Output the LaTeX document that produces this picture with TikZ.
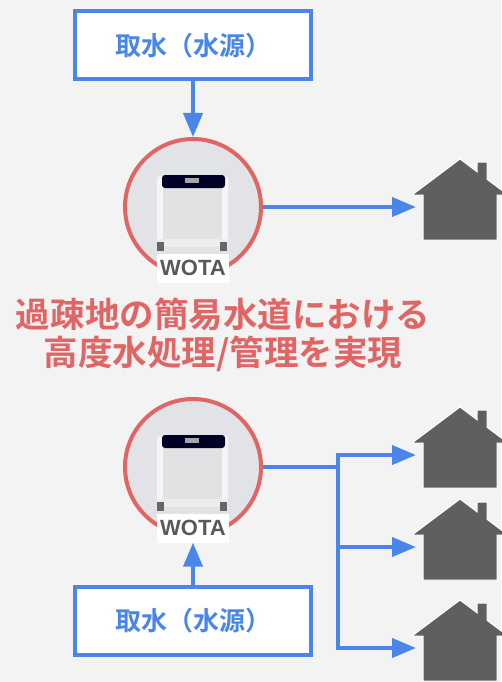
\documentclass[tikz,border=0pt]{standalone}
\usepackage{fontspec}
\usetikzlibrary{positioning}
\usetikzlibrary{arrows.meta}
\setmainfont{Liberation Sans}
\newfontfamily\jpbold{Noto Sans CJK JP Bold}
\definecolor{wotablue}{HTML}{4A86E8}
\definecolor{wotared}{HTML}{E06666}
\definecolor{housegray}{HTML}{5F5F5F}
\definecolor{bggray}{HTML}{F3F3F3}
\definecolor{unitgray}{HTML}{E2E3E7}

\tikzset{
  house/.pic={
    \fill[housegray,draw=white,line width=1pt]
      (-4,-12) -- (44,-48) -- (61,-35.25) -- (61,-45) -- (71,-45) -- (71,-27.75)
      -- (92,-12) -- (81,-12) -- (81,33) -- (7,33) -- (7,-12) -- cycle;
  },
  unit/.pic={
    \fill[white!92!gray,rounded corners=3pt] (-36,-31) rectangle (35,38);
    \fill[blue!4!gray!22] (-30,-20) rectangle (29,32);
    \fill[black!85!blue,rounded corners=3pt] (-31,-32) rectangle (32,-19);
    \fill[gray!70] (-8,-29) rectangle (6,-24);
    \fill[gray!15] (-36,32) rectangle (35,40);
    \fill[gray!80!black] (-36,35) rectangle (-29,44);
    \fill[gray!80!black] (27,35) rectangle (34,44);
  }
}

\begin{document}
\begin{tikzpicture}[x=1pt,y=-1pt,
  src/.style={rectangle,draw=wotablue,fill=white,line width=3.5pt,
    minimum width=236pt,minimum height=68pt,
    font=\jpbold\fontsize{26}{30}\selectfont,text=wotablue},
  wota/.style={circle,draw=wotared,fill=unitgray,line width=4pt,
    minimum size=136pt,inner sep=0pt},
  tag/.style={rectangle,fill=white,minimum width=72pt,minimum height=29pt,
    inner sep=0pt,font=\bfseries\fontsize{22}{24}\selectfont,text=black!65},
  arr/.style={-{Triangle[length=24pt,width=19pt]},line width=4pt,draw=wotablue},
  pipe/.style={line width=4pt,draw=wotablue}
]
  \useasboundingbox (0,0) rectangle (501,682);
  \fill[bggray] (0,0) rectangle (501,682);

  \node[wota] (W1) at (193,207) {};
  \pic at (W1) {unit};
  \node[tag] (L1) at ([yshift=9pt]W1.south) {WOTA};
  \node[src,above=56pt of W1] (S1) {取水（水源）};
  \coordinate[right=153pt of W1] (H1);

  \node[font=\jpbold\fontsize{34.5}{38}\selectfont,text=wotared,align=center]
    (T) at (223,335) {過疎地の簡易水道における\\高度水処理/管理を実現};

  \node[wota] (W2) at (193,467) {};
  \pic at (W2) {unit};
  \node[tag] (L2) at ([yshift=9pt]W2.south) {WOTA};
  \node[src,below=48pt of W2] (S2) {取水（水源）};
  \coordinate[right=75pt of W2] (J);
  \coordinate (H2) at (416,455);
  \coordinate (H3) at (416,547);
  \coordinate (H4) at (416,648);

  \draw[arr] (S1) -- (W1);
  \draw[arr] (W1) -- (H1);
  \draw[arr] (S2) -- (L2);
  \draw[pipe] (W2) -- (J);
  \draw[arr] (J) |- (H2);
  \draw[arr] (J) |- (H3);
  \draw[arr] (J) |- (H4);

  \pic at (H1) {house};
  \pic at (H2) {house};
  \pic at (H3) {house};
  \pic at (H4) {house};
\end{tikzpicture}
\end{document}
